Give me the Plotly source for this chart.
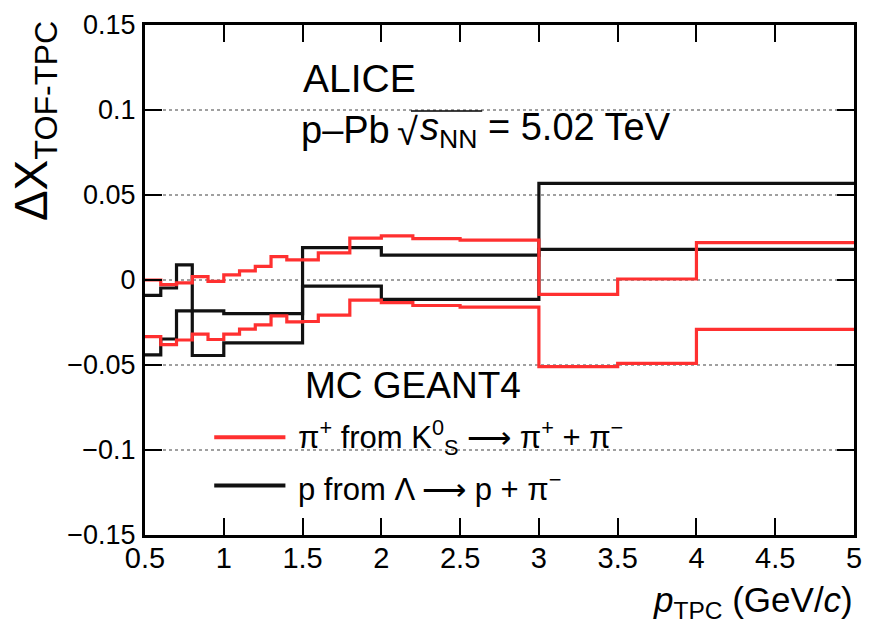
import plotly.graph_objects as go

# ---------------- data ----------------
red_edges = [0.5, 0.6, 0.7, 0.8, 0.9, 1.0, 1.1, 1.2, 1.3, 1.4, 1.5, 1.6,
             1.8, 2.0, 2.2, 2.5, 3.0, 3.5, 4.0, 5.0]
red_upper = [0.0000, -0.0027, -0.0017, 0.0020, -0.0008, 0.0030, 0.0054, 0.0080,
             0.0138, 0.0118, 0.0118, 0.0160, 0.0246, 0.0260, 0.0243, 0.0235,
             -0.0085, 0.0006, 0.0220]
red_lower = [-0.0333, -0.0380, -0.0353, -0.0318, -0.0350, -0.0318, -0.0289, -0.0264,
             -0.0211, -0.0246, -0.0244, -0.0207, -0.0118, -0.0133, -0.0150, -0.0160,
             -0.0510, -0.0490, -0.0290]

black_edges = [0.5, 0.6, 0.7, 0.8, 1.0, 1.5, 2.0, 3.0, 5.0]
black_upper = [-0.0091, -0.0047, 0.0089, -0.0182, -0.0198, 0.0190, 0.0146, 0.0568]
black_lower = [-0.0440, -0.0347, -0.0182, -0.0444, -0.0370, -0.0036, -0.0114, 0.0180]

y_tickvals = [-0.15, -0.1, -0.05, 0, 0.05, 0.1, 0.15]
y_ticktext = ["\u22120.15", "\u22120.1", "\u22120.05", "0", "0.05", "0.1", "0.15"]
x_tickvals = [0.5, 1, 1.5, 2, 2.5, 3, 3.5, 4, 4.5, 5]
x_ticktext = ["0.5", "1", "1.5", "2", "2.5", "3", "3.5", "4", "4.5", "5"]

# ---------------- layout helpers ----------------
W, H = 872, 634
L, R, T, B = 145, 10, 19, 99
PW, PH = W - L - R, H - T - B
FONT = "Liberation Sans, Arial, Helvetica, sans-serif"
RED = "#ff3030"
BLACK = "#111111"


def px(x):
    return (x - L) / PW


def py(y):
    return (H - B - y) / PH


def step(edges, vals):
    return list(edges), list(vals) + [vals[-1]]


fig = go.Figure()
for vals in (black_upper, black_lower):
    xs, ys = step(black_edges, vals)
    fig.add_trace(go.Scatter(x=xs, y=ys, mode="lines",
                             line=dict(color=BLACK, width=3.2, shape="hv"),
                             showlegend=False, hoverinfo="skip"))
for vals in (red_upper, red_lower):
    xs, ys = step(red_edges, vals)
    fig.add_trace(go.Scatter(x=xs, y=ys, mode="lines",
                             line=dict(color=RED, width=3.2, shape="hv"),
                             showlegend=False, hoverinfo="skip"))

axis_common = dict(showline=True, linewidth=3, linecolor="black", mirror="allticks",
                   ticks="inside", ticklen=17, tickwidth=1.5, tickcolor="black",
                   zeroline=False)

fig.update_xaxes(range=[0.5, 5], tickvals=x_tickvals, ticktext=x_ticktext,
                 showgrid=False, tickfont=dict(family=FONT, size=29, color="black"),
                 ticklabelstandoff=-5, **axis_common)
fig.update_yaxes(range=[-0.15, 0.15], tickvals=y_tickvals, ticktext=y_ticktext,
                 showgrid=True, gridcolor="#a0a0a0", gridwidth=1.6, griddash="dot",
                 tickfont=dict(family=FONT, size=27, color="black"),
                 ticklabelstandoff=1, **axis_common)

ann = []


def text(x, y, s, size, xanchor="left", yanchor="middle", angle=0):
    ann.append(dict(x=px(x), y=py(y), xref="paper", yref="paper", text=s,
                    showarrow=False, xanchor=xanchor, yanchor=yanchor,
                    textangle=angle, font=dict(family=FONT, size=size, color="black")))


ARROW = "\u27f6"
text(303, 73, "ALICE", 39)
text(301, 125, "p\u2013Pb", 38)
text(398, 127, "\u221a", 38)
text(421, 125, "<i>s</i><sub>NN</sub> = 5.02 TeV", 38)
text(305, 384, "MC GEANT4", 37)
text(298, 436, "\u03c0<sup>+</sup> from K<sup>0</sup><sub>S</sub> " + ARROW + " \u03c0<sup>+</sup> + \u03c0<sup>\u2212</sup>", 31)
text(298, 486, "p from \u039b " + ARROW + " p + \u03c0<sup>\u2212</sup>", 31)
text(863, 603, "<i>p</i><sub>TPC</sub> (GeV/<i>c</i>)", 35, xanchor="right")
text(34, 116, "\u0394X<sub>TOF-TPC</sub>", 46, xanchor="center", angle=-90)

shapes = [
    dict(type="line", xref="paper", yref="paper", x0=px(215), x1=px(287),
         y0=py(436), y1=py(436), line=dict(color=RED, width=4)),
    dict(type="line", xref="paper", yref="paper", x0=px(215), x1=px(287),
         y0=py(485), y1=py(485), line=dict(color=BLACK, width=4)),
    dict(type="line", xref="paper", yref="paper", x0=px(414), x1=px(486),
         y0=py(106), y1=py(106), line=dict(color="black", width=1.5)),
]

fig.update_layout(width=W, height=H, margin=dict(l=L, r=R, t=T, b=B),
                  paper_bgcolor="white", plot_bgcolor="white",
                  annotations=ann, shapes=shapes, showlegend=False,
                  font=dict(family=FONT, color="black"))

fig.write_html("out.html")
